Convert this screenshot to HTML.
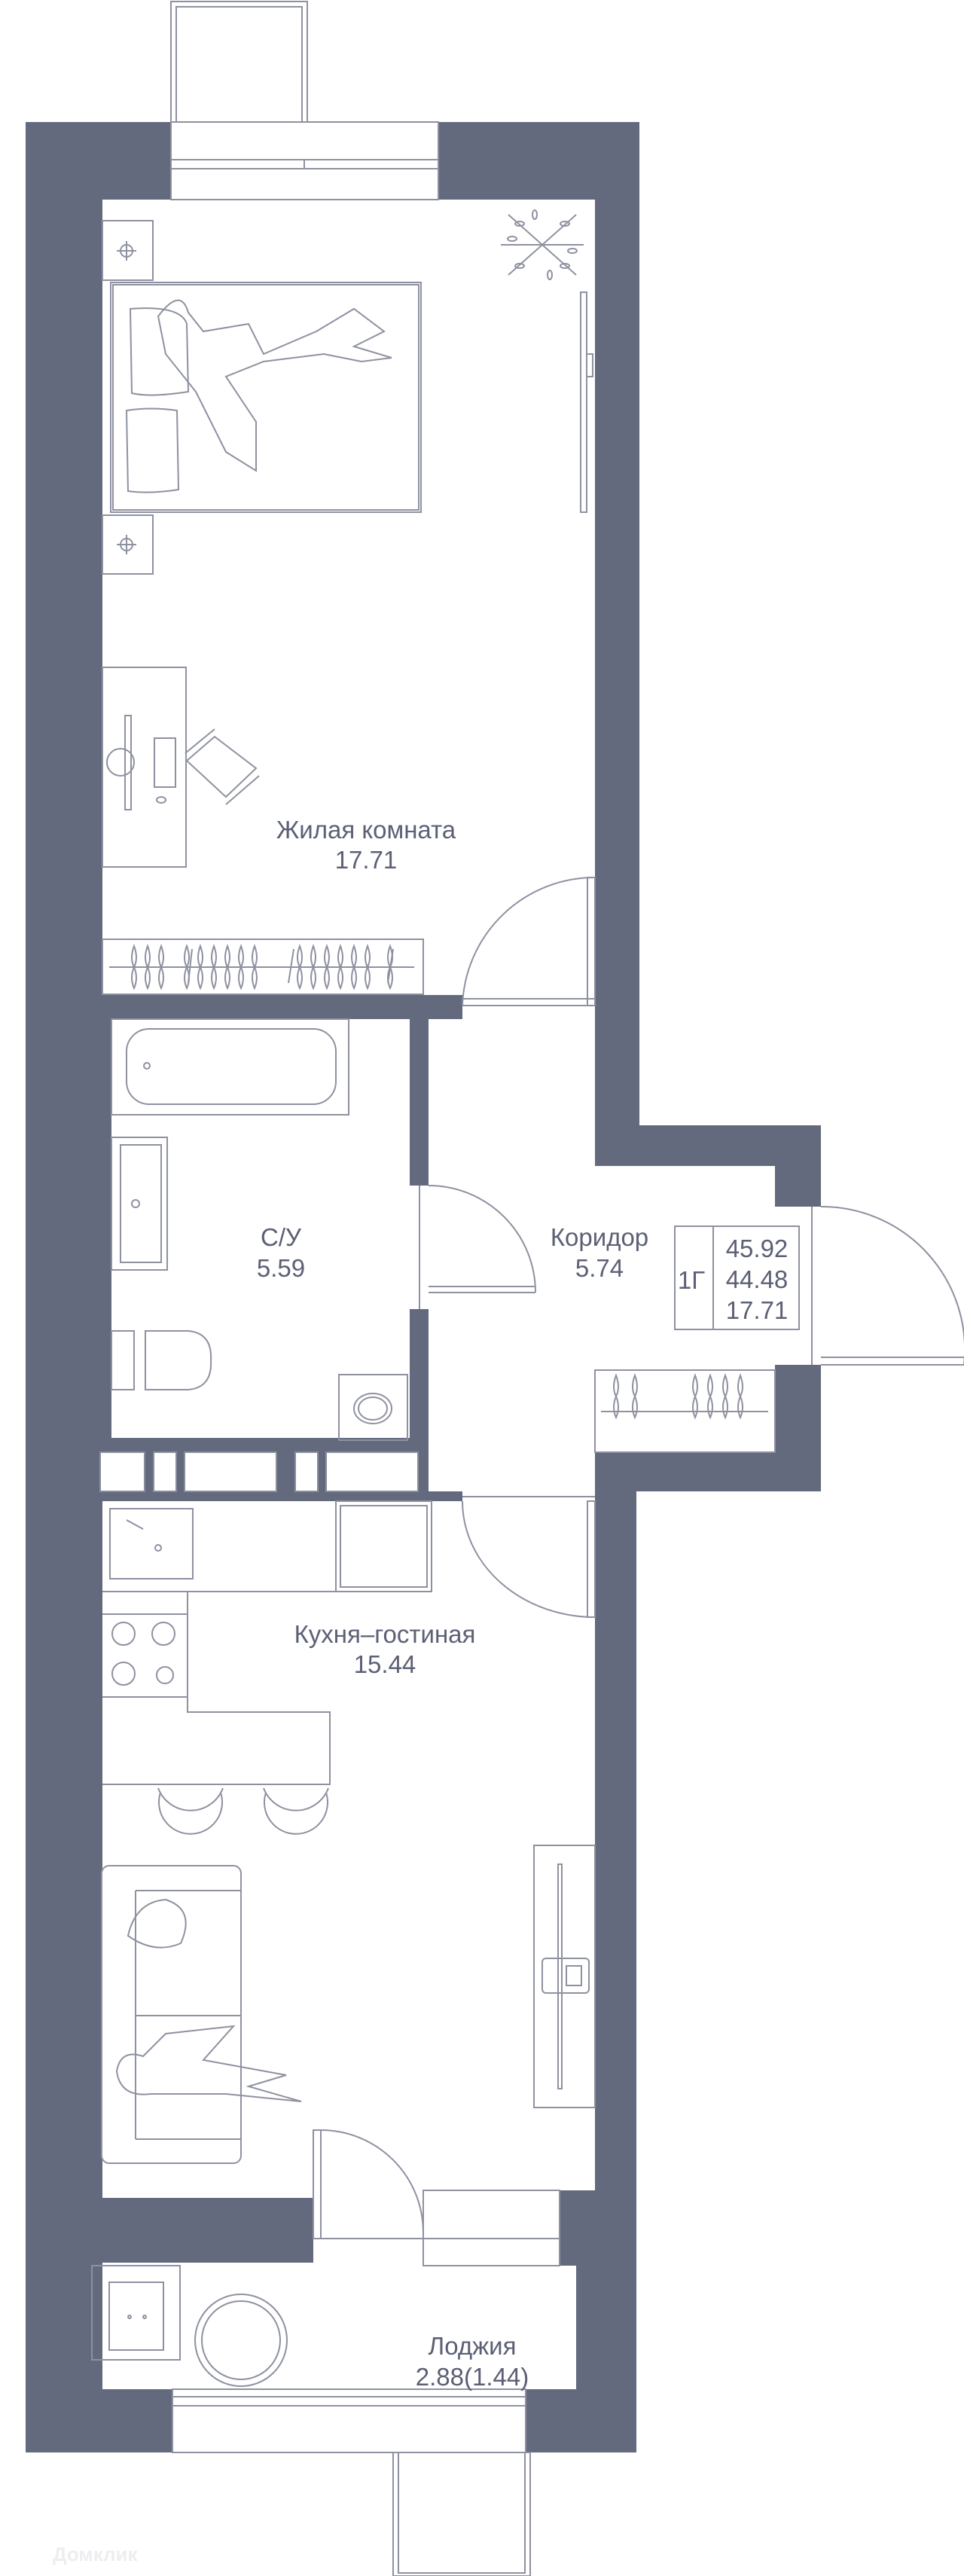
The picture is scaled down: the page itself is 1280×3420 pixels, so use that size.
<!DOCTYPE html>
<html><head><meta charset="utf-8"><style>
html,body{margin:0;padding:0;background:#fff;}
svg{display:block;}
text{font-family:"Liberation Sans",sans-serif;fill:#5c6075;}
</style></head><body>
<svg width="1280" height="3420" viewBox="0 0 1280 3420" xmlns="http://www.w3.org/2000/svg">
<g fill="#646a7e">
<rect x="34" y="162" width="193" height="103"/>
<rect x="582" y="162" width="267" height="103"/>
<rect x="34" y="265" width="102" height="2991"/>
<rect x="136" y="1353" width="12" height="556"/>
<rect x="790" y="265" width="59" height="1229"/>
<rect x="136" y="1321" width="478" height="32"/>
<rect x="544" y="1353" width="25" height="221"/>
<rect x="544" y="1738" width="25" height="171"/>
<rect x="34" y="1909" width="535" height="84"/>
<rect x="569" y="1980" width="45" height="13"/>
<rect x="790" y="1494" width="300" height="54"/>
<rect x="1029" y="1548" width="61" height="54"/>
<rect x="1029" y="1812" width="61" height="168"/>
<rect x="790" y="1928" width="300" height="52"/>
<rect x="790" y="1980" width="55" height="1276"/>
<rect x="34" y="2918" width="382" height="86"/>
<rect x="743" y="2908" width="102" height="100"/>
<rect x="765" y="3008" width="80" height="248"/>
<rect x="34" y="3004" width="75" height="252"/>
<rect x="34" y="3172" width="195" height="84"/>
<rect x="698" y="3172" width="147" height="84"/>
</g>
<g fill="#fff" stroke="#8a8d9c" stroke-width="2">
<rect x="133" y="1928" width="59" height="52"/>
<rect x="204" y="1928" width="30" height="52"/>
<rect x="245" y="1928" width="122" height="52"/>
<rect x="392" y="1928" width="30" height="52"/>
<rect x="433" y="1928" width="122" height="52"/>
</g>
<g fill="none" stroke="#8e91a0" stroke-width="2">
<rect x="227" y="2" width="181" height="160"/>
<rect x="234" y="9" width="167" height="153"/>
<rect x="227" y="162" width="355" height="103" fill="#fff"/>
<line x1="227" y1="212" x2="582" y2="212"/><line x1="227" y1="224" x2="582" y2="224"/>
<line x1="404" y1="212" x2="404" y2="224"/>
<rect x="229" y="3172" width="469" height="84" fill="#fff"/>
<line x1="229" y1="3182" x2="698" y2="3182"/><line x1="229" y1="3194" x2="698" y2="3194"/>
<rect x="522" y="3256" width="182" height="164"/>
<rect x="529" y="3256" width="168" height="160"/>
<rect x="136" y="293" width="67" height="79"/>
<rect x="136" y="684" width="67" height="78"/>
<circle cx="168" cy="333" r="8"/><line x1="155" y1="333" x2="181" y2="333"/><line x1="168" y1="320" x2="168" y2="346"/>
<circle cx="168" cy="723" r="8"/><line x1="155" y1="723" x2="181" y2="723"/><line x1="168" y1="710" x2="168" y2="736"/>
<rect x="147" y="375" width="412" height="305"/>
<rect x="150" y="378" width="406" height="299"/>
<path d="M173 410 Q240 405 248 430 L250 520 Q200 528 175 522 Z"/>
<path d="M168 545 Q200 540 235 545 L237 650 Q200 656 170 652 Z"/>
<path d="M210 420 Q240 380 250 415 L270 440 L330 430 L350 470 L420 440 L470 410 L510 440 L470 460 L520 475 L480 480 L430 470 L350 480 L300 500 L340 560 L340 625 L300 600 L260 520 L220 470 Z"/>
<g transform="translate(720,325)">
<line x1="-45" y1="-40" x2="45" y2="40"/><line x1="45" y1="-40" x2="-45" y2="40"/><line x1="-55" y1="0" x2="55" y2="0"/>
<ellipse cx="-30" cy="-28" rx="6" ry="3"/><ellipse cx="30" cy="-28" rx="6" ry="3"/><ellipse cx="-30" cy="28" rx="6" ry="3"/><ellipse cx="30" cy="28" rx="6" ry="3"/>
<ellipse cx="-40" cy="-8" rx="6" ry="3"/><ellipse cx="40" cy="8" rx="6" ry="3"/><ellipse cx="-10" cy="-40" rx="3" ry="6"/><ellipse cx="10" cy="40" rx="3" ry="6"/>
</g>
<rect x="771" y="388" width="8" height="292"/>
<rect x="779" y="470" width="8" height="30"/>
<rect x="136" y="886" width="111" height="265"/>
<rect x="166" y="950" width="8" height="125"/>
<circle cx="160" cy="1012" r="18"/>
<rect x="205" y="980" width="28" height="65"/>
<ellipse cx="214" cy="1062" rx="6" ry="4"/>
<path d="M248 1010 L285 978 L340 1020 L300 1058 Z"/>
<path d="M246 1000 L285 968 M300 1068 L344 1030"/>
<rect x="136" y="1247" width="426" height="73"/>
<line x1="145" y1="1284" x2="550" y2="1284"/>
<g id="h"><path d="M178 1256 Q172 1272 178 1284 Q184 1298 178 1312 Q172 1298 178 1284 Q184 1272 178 1256 Z"/></g>
<use href="#h" x="18"/><use href="#h" x="36"/><use href="#h" x="70"/><use href="#h" x="88"/><use href="#h" x="106"/><use href="#h" x="124"/><use href="#h" x="142"/><use href="#h" x="160"/><use href="#h" x="220"/><use href="#h" x="238"/><use href="#h" x="256"/><use href="#h" x="274"/><use href="#h" x="292"/><use href="#h" x="310"/><use href="#h" x="340"/>
<line x1="250" y1="1305" x2="255" y2="1260"/><line x1="383" y1="1305" x2="390" y2="1260"/><line x1="515" y1="1305" x2="522" y2="1260"/>
<path d="M614 1335 A176 176 0 0 1 790 1165"/><rect x="780" y="1165" width="10" height="170"/>
<line x1="614" y1="1335" x2="790" y2="1335"/><line x1="614" y1="1326" x2="790" y2="1326"/>
<path d="M569 1574 A142 142 0 0 1 711 1716"/><line x1="569" y1="1716" x2="711" y2="1716"/><line x1="569" y1="1708" x2="711" y2="1708"/>
<line x1="557" y1="1574" x2="557" y2="1738"/>
<path d="M1090 1602 A190 190 0 0 1 1280 1812"/><line x1="1090" y1="1812" x2="1280" y2="1812"/><line x1="1090" y1="1802" x2="1280" y2="1802"/>
<line x1="1078" y1="1602" x2="1078" y2="1812"/>
<path d="M614 1993 A176 154 0 0 0 790 2147"/><rect x="780" y="1993" width="10" height="154"/>
<line x1="614" y1="1987" x2="790" y2="1987"/>
<path d="M426 2828 A136 136 0 0 1 562 2964"/><rect x="416" y="2828" width="10" height="144"/>
<rect x="562" y="2908" width="181" height="100" fill="#fff"/><line x1="416" y1="2972" x2="743" y2="2972"/>
<rect x="148" y="1353" width="315" height="127"/>
<rect x="168" y="1366" width="278" height="100" rx="30"/>
<circle cx="195" cy="1415" r="4"/>
<rect x="148" y="1510" width="74" height="176"/><rect x="160" y="1520" width="54" height="156"/>
<circle cx="180" cy="1598" r="5"/>
<rect x="148" y="1767" width="30" height="78"/>
<path d="M193 1767 L250 1767 Q282 1770 280 1806 Q282 1842 250 1845 L193 1845 Z"/>
<rect x="450" y="1825" width="91" height="87"/><ellipse cx="495" cy="1870" rx="25" ry="20"/><ellipse cx="495" cy="1870" rx="19" ry="15"/>
<rect x="790" y="1819" width="239" height="109"/>
<line x1="798" y1="1874" x2="1020" y2="1874"/>
<use href="#h" x="640" y="570"/><use href="#h" x="665" y="570"/><use href="#h" x="745" y="570"/><use href="#h" x="765" y="570"/><use href="#h" x="785" y="570"/><use href="#h" x="805" y="570"/>
<rect x="896" y="1628" width="165" height="137"/><line x1="947" y1="1628" x2="947" y2="1765"/>
<path d="M136 2113 L249 2113 L249 2273 L438 2273 L438 2369 L136 2369"/>
<line x1="136" y1="2113" x2="446" y2="2113"/>
<rect x="146" y="2003" width="110" height="93"/><circle cx="210" cy="2055" r="4"/><line x1="168" y1="2018" x2="190" y2="2030"/>
<rect x="446" y="1993" width="127" height="120"/><rect x="452" y="1999" width="115" height="108"/>
<line x1="136" y1="2143" x2="249" y2="2143"/><line x1="136" y1="2253" x2="249" y2="2253"/>
<circle cx="164" cy="2169" r="15"/><circle cx="217" cy="2169" r="15"/><circle cx="164" cy="2222" r="15"/><circle cx="219" cy="2224" r="11"/>
<path d="M213 2380 A42 42 0 1 0 293 2380"/><path d="M210 2374 A46 46 0 0 0 296 2374"/>
<path d="M353 2380 A42 42 0 1 0 433 2380"/><path d="M350 2374 A46 46 0 0 0 436 2374"/>
<rect x="135" y="2477" width="185" height="395" rx="10"/>
<line x1="180" y1="2510" x2="180" y2="2840"/><line x1="180" y1="2510" x2="320" y2="2510"/><line x1="180" y1="2840" x2="320" y2="2840"/>
<line x1="180" y1="2676" x2="320" y2="2676"/>
<path d="M170 2570 Q180 2525 220 2522 Q260 2535 240 2580 Q205 2595 170 2570 Z"/>
<path d="M155 2750 Q160 2720 190 2730 L220 2700 L310 2690 L270 2735 L380 2755 L330 2770 L400 2790 L300 2780 L200 2780 Q160 2785 155 2750 Z"/>
<rect x="709" y="2450" width="81" height="348"/><rect x="741" y="2475" width="5" height="298"/>
<rect x="720" y="2600" width="62" height="46" rx="5"/><rect x="752" y="2610" width="20" height="26"/>
<rect x="122" y="3008" width="117" height="125"/><rect x="145" y="3030" width="72" height="90"/>
<circle cx="172" cy="3076" r="2"/><circle cx="192" cy="3076" r="2"/>
<circle cx="320" cy="3107" r="61"/><circle cx="320" cy="3107" r="52"/>
</g>
<g font-size="33" text-anchor="middle">
<text x="486" y="1113">Жилая комната</text>
<text x="486" y="1153">17.71</text>
<text x="373" y="1654">С/У</text>
<text x="373" y="1695">5.59</text>
<text x="796" y="1654">Коридор</text>
<text x="796" y="1695">5.74</text>
<text x="918" y="1711">1Г</text>
<text x="1005" y="1669">45.92</text>
<text x="1005" y="1710">44.48</text>
<text x="1005" y="1751">17.71</text>
<text x="511" y="2181">Кухня–гостиная</text>
<text x="511" y="2221">15.44</text>
<text x="627" y="3126">Лоджия</text>
<text x="627" y="3167">2.88(1.44)</text>
</g>
<text x="70" y="3400" font-size="26" style="fill:#eeeef2" font-weight="bold">Домклик</text>
</svg>
</body></html>
